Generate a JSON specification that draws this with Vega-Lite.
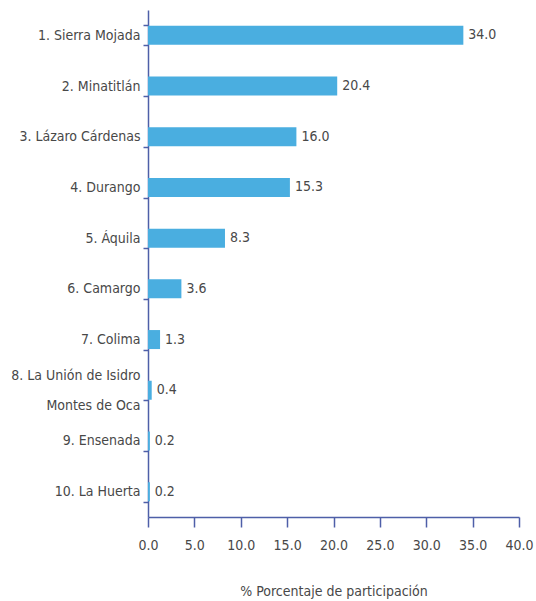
{
  "$schema": "https://vega.github.io/schema/vega-lite/v6.json",
  "autosize": "none",
  "width": 371,
  "height": 507,
  "padding": {"left": 148, "top": 10, "right": 17, "bottom": 84},
  "background": "white",
  "data": {
    "values": [
      {"lugar": "1. Sierra Mojada", "pct": 34.0},
      {"lugar": "2. Minatitlán", "pct": 20.4},
      {"lugar": "3. Lázaro Cárdenas", "pct": 16.0},
      {"lugar": "4. Durango", "pct": 15.3},
      {"lugar": "5. Áquila", "pct": 8.3},
      {"lugar": "6. Camargo", "pct": 3.6},
      {"lugar": "7. Colima", "pct": 1.3},
      {"lugar": "8. La Unión de Isidro|Montes de Oca", "pct": 0.4},
      {"lugar": "9. Ensenada", "pct": 0.2},
      {"lugar": "10. La Huerta", "pct": 0.2}
    ]
  },
  "config": {
    "view": {"stroke": null},
    "font": "DejaVu Sans Condensed",
    "axis": {
      "domainColor": "#4e5fa8",
      "tickColor": "#4e5fa8",
      "domainWidth": 1.5,
      "tickWidth": 1.5,
      "labelColor": "#484848",
      "titleColor": "#484848",
      "labelFont": "DejaVu Sans Condensed",
      "titleFont": "DejaVu Sans Condensed",
      "labelFontSize": 14,
      "titleFontSize": 14,
      "titleFontWeight": "normal",
      "grid": false
    }
  },
  "encoding": {
    "y": {
      "field": "lugar",
      "type": "nominal",
      "sort": null,
      "scale": {"paddingInner": 0.6, "paddingOuter": 0.3},
      "axis": {
        "title": null,
        "labelExpr": "datum.value ? split(datum.value, '|') : ''",
        "labelOffset": {"expr": "datum.value && indexof(datum.value, '|') >= 0 ? -15 : 0"},
        "tickBand": "extent",
        "tickSize": 5,
        "labelPadding": 3,
        "labelLineHeight": 30,
        "labelLimit": 200
      }
    },
    "x": {
      "field": "pct",
      "type": "quantitative",
      "scale": {"domain": [0, 40], "nice": false},
      "axis": {
        "title": "% Porcentaje de participación",
        "format": ".1f",
        "values": [0, 5, 10, 15, 20, 25, 30, 35, 40],
        "labelFlush": false,
        "tickSize": 10,
        "labelPadding": 11,
        "titlePadding": 32
      }
    }
  },
  "layer": [
    {"mark": {"type": "bar", "color": "#4aaee0", "size": 19}},
    {
      "mark": {"type": "text", "align": "left", "dx": 5, "fontSize": 14, "color": "#484848", "font": "DejaVu Sans Condensed"},
      "encoding": {"text": {"field": "pct", "type": "quantitative", "format": ".1f"}}
    }
  ]
}
